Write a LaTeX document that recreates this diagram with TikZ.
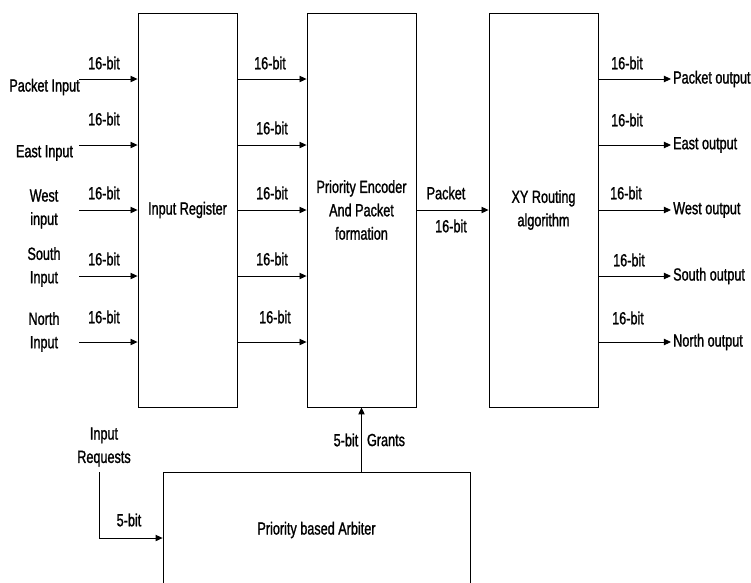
\documentclass[tikz,border=0pt]{standalone}
\usepackage{fontspec}
\setmainfont[FakeStretch=0.72,FakeBold=1.2]{Liberation Sans}
\usetikzlibrary{arrows.meta}

\begin{document}
\begin{tikzpicture}[
    x=0.02cm, y=-0.02cm,
    line width=0.5pt,
    every node/.style={font=\fontsize{10}{13.3}\selectfont, inner sep=0pt, align=center},
    block/.style={draw, minimum height=7.88cm},
    arr/.style={-{Triangle[length=4pt,width=3.6pt]}},
    outlabel/.style={anchor=west, inner sep=1pt}
]

    % --- FRAME ---
    \useasboundingbox (0,0) rectangle (751,582);
    \clip (0,0) rectangle (751,582);

    % --- BLOCKS ---
    \node[block, minimum width=1.98cm] (reg) at (187.5,210) {Input Register};
    \node[block, minimum width=2.18cm] (enc) at (361.5,210) {Priority Encoder\\And Packet\\formation};
    \node[block, minimum width=2.18cm] (xy) at (543.5,210) {XY Routing\\algorithm};
    \node[block, minimum width=6.14cm, minimum height=2.32cm] (arb) at (316.5,530) {Priority based Arbiter};

    % --- INPUTS ---

    % Arrow starts
    \coordinate (in1) at (79,79);   % Packet
    \coordinate (in2) at (79,145);  % East
    \coordinate (in3) at (79,210);  % West
    \coordinate (in4) at (79,276);  % South
    \coordinate (in5) at (79,342);  % North

    % Port names
    \node (lpkt) at (44.5,87) {Packet Input};
    \node (least) at (44.5,153) {East Input};
    \node (lwest) at (44,209) {West\\input};
    \node (lsouth) at (44,267) {South\\Input};
    \node (lnorth) at (44,332) {North\\Input};

    % Input arrows
    \draw[arr] (in1) -- (reg.west |- in1);
    \draw[arr] (in2) -- (reg.west |- in2);
    \draw[arr] (in3) -- (reg.west |- in3);
    \draw[arr] (in4) -- (reg.west |- in4);
    \draw[arr] (in5) -- (reg.west |- in5);

    % Widths
    \node (wi1) at (104,63) {16-bit};
    \node (wi2) at (104,119) {16-bit};
    \node (wi3) at (104,193) {16-bit};
    \node (wi4) at (104,259) {16-bit};
    \node (wi5) at (104,317) {16-bit};

    % --- REGISTER TO ENCODER ---
    \draw[arr] (reg.east |- in1) -- (enc.west |- in1);
    \draw[arr] (reg.east |- in2) -- (enc.west |- in2);
    \draw[arr] (reg.east |- in3) -- (enc.west |- in3);
    \draw[arr] (reg.east |- in4) -- (enc.west |- in4);
    \draw[arr] (reg.east |- in5) -- (enc.west |- in5);

    \node (wm1) at (270,63) {16-bit};
    \node (wm2) at (272,128) {16-bit};
    \node (wm3) at (272,193) {16-bit};
    \node (wm4) at (272,259) {16-bit};
    \node (wm5) at (275,317) {16-bit};

    % --- ENCODER TO ROUTING ---
    \draw[arr] (enc) -- (xy);
    \node (pkt) at (446,193) {Packet};
    \node (wp) at (451,226) {16-bit};

    % --- OUTPUTS ---
    \node[outlabel] (out1) at (671,79) {Packet output};
    \node[outlabel] (out2) at (671,145) {East output};
    \node[outlabel] (out3) at (671,210) {West output};
    \node[outlabel] (out4) at (671,276) {South output};
    \node[outlabel] (out5) at (671,342) {North output};

    \draw[arr] (xy.east |- out1) -- (out1.west);
    \draw[arr] (xy.east |- out2) -- (out2.west);
    \draw[arr] (xy.east |- out3) -- (out3.west);
    \draw[arr] (xy.east |- out4) -- (out4.west);
    \draw[arr] (xy.east |- out5) -- (out5.west);

    \node (wo1) at (627,63) {16-bit};
    \node (wo2) at (627,120) {16-bit};
    \node (wo3) at (626,193) {16-bit};
    \node (wo4) at (629,260) {16-bit};
    \node (wo5) at (628,318) {16-bit};

    % --- ARBITER ---

    % Grants up to the encoder
    \draw[arr] (enc.south |- arb.north) -- (enc.south);
    \node (wg) at (346,440) {5-bit};
    \node (grants) at (386,440) {Grants};

    % Requests into the arbiter
    \node (req) at (104,447) {Input\\Requests};
    \coordinate (reqtop) at (99,472);
    \coordinate (reqbend) at (99,538);
    \draw[arr] (reqtop) -- (reqbend) -- (reqbend -| arb.west);
    \node (wr) at (129,520) {5-bit};

\end{tikzpicture}
\end{document}
